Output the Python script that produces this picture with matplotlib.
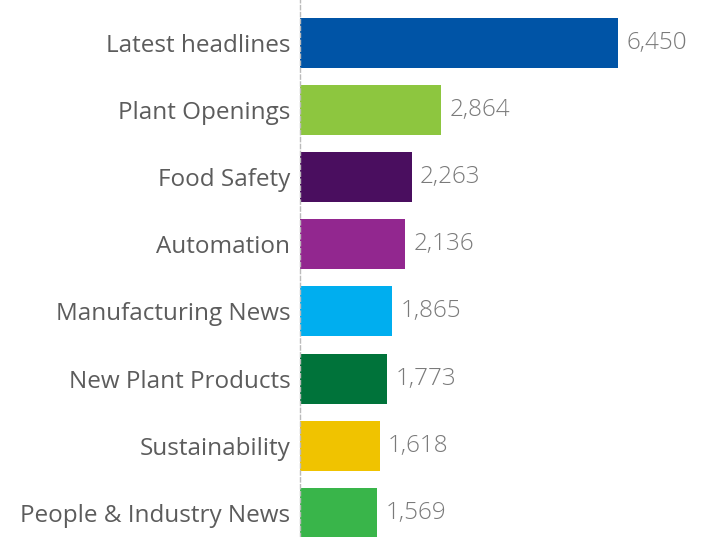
import matplotlib
matplotlib.use('Agg')
import matplotlib.pyplot as plt

categories = ['Latest headlines', 'Plant Openings', 'Food Safety', 'Automation',
              'Manufacturing News', 'New Plant Products', 'Sustainability',
              'People & Industry News']
values = [6450, 2864, 2263, 2136, 1865, 1773, 1618, 1569]
colors = ['#0054A6', '#8DC63F', '#4A0E5F', '#92278F',
          '#00AEEF', '#00733A', '#F0C300', '#39B54A']

plt.rcParams['font.family'] = ['Open Sans', 'DejaVu Sans']

fig = plt.figure(figsize=(7.09, 5.37), dpi=100)
ax = fig.add_axes([300 / 709, 0, 409 / 709, 1])

pos = list(range(len(categories)))
ax.barh(pos, values, height=0.745, color=colors)
ax.set_xlim(0, 8296)
ax.set_ylim(7.36, -0.64)

for p, v in zip(pos, values):
    ax.annotate(f'{v:,}', (v, p), xytext=(6, 0), textcoords='offset points',
                va='center', ha='left', fontsize=17.5, color='#7a7a7a',
                fontweight='light')

ax.set_yticks(pos)
ax.set_yticklabels(categories, fontsize=17.5, color='#5c5c5c')
ax.tick_params(axis='y', length=0, pad=7)
ax.set_xticks([])
for s in ['top', 'right', 'bottom']:
    ax.spines[s].set_visible(False)
ax.spines['left'].set_linestyle((0, (3, 2)))
ax.spines['left'].set_color('#bbbbbb')
ax.spines['left'].set_linewidth(1)

fig.savefig('out.png', dpi=100)
